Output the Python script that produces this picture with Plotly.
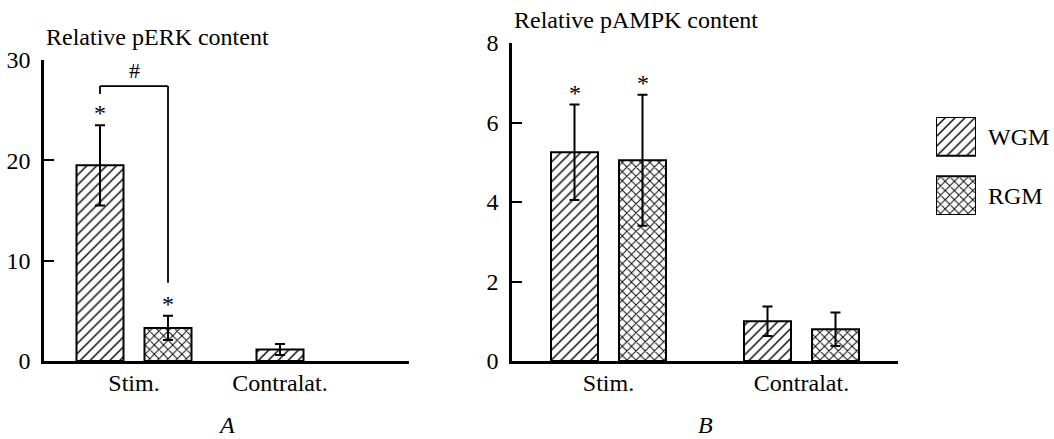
import plotly.graph_objects as go

# ---------------- data ----------------
categories = ["Stim.", "Contralat."]
series_names = ["WGM", "RGM"]

perk_wgm = [19.5, 1.15]
perk_wgm_err = [4.0, 0.55]
perk_rgm = [3.3, None]
perk_rgm_err = [1.2, None]

pampk_wgm = [5.25, 1.0]
pampk_wgm_err = [1.2, 0.37]
pampk_rgm = [5.05, 0.8]
pampk_rgm_err = [1.65, 0.42]

# significance marks: (panel, series index, category index)
stars = [("A", 0, 0), ("A", 1, 0), ("B", 0, 0), ("B", 1, 0)]
bracket_level = 27.4       # pERK units
bracket_left_drop = 26.6
bracket_right_drop = 7.8

# ---------------- layout geometry (pixels) ----------------
W, H = 1054, 439
FONT = "Liberation Serif, Times New Roman, serif"
FS = 24
BAR_PX = 47
OFF_PX = 34

pA = dict(x0=44, x1=409, y0=361, y1=60, yrange=[0, 30], yticks=[0, 10, 20, 30], xrange=[-0.5, 1.5278])
pB = dict(x0=512, x1=898, y0=361, y1=43, yrange=[0, 8], yticks=[0, 2, 4, 6, 8], xrange=[-0.5, 1.5])


def ppu(p):
    return (p["x1"] - p["x0"]) / (p["xrange"][1] - p["xrange"][0])


patterns = [dict(shape="/", size=7, solidity=0.2, fgcolor="black", bgcolor="white", fgopacity=1),
            dict(shape="x", size=6.5, solidity=0.27, fgcolor="black", bgcolor="white", fgopacity=1)]

fig = go.Figure()

panels = [("A", pA, [perk_wgm, perk_rgm], [perk_wgm_err, perk_rgm_err], "x", "y", "Relative pERK content"),
          ("B", pB, [pampk_wgm, pampk_rgm], [pampk_wgm_err, pampk_rgm_err], "x2", "y2", "Relative pAMPK content")]

annotations = []
shapes = []
positions = {}
for name, p, vals, errs, xa, ya, title in panels:
    u = ppu(p)
    width = BAR_PX / u
    off = OFF_PX / u
    pos_by_series = []
    for si, (v, e) in enumerate(zip(vals, errs)):
        sign = -1 if si == 0 else 1
        xs = [ci + sign * off for ci in range(len(categories))]
        pos_by_series.append(xs)
        fig.add_trace(go.Bar(
            x=xs, y=v, width=width, xaxis=xa, yaxis=ya,
            marker=dict(color="white", line=dict(color="black", width=2), pattern=patterns[si]),
            error_y=dict(type="data", array=e, visible=True, color="black", thickness=2, width=5),
            showlegend=False, name=series_names[si]))
    positions[name] = (pos_by_series, vals, errs)
    # tick positions: centre of the bars present in each category
    tickvals = []
    for ci in range(len(categories)):
        present = [pos_by_series[si][ci] for si in range(2) if vals[si][ci] is not None]
        tickvals.append(sum(present) / len(present))
    xkey = "xaxis" if xa == "x" else "xaxis2"
    ykey = "yaxis" if ya == "y" else "yaxis2"
    fig.layout[xkey] = dict(domain=[p["x0"] / W, p["x1"] / W], range=p["xrange"], anchor=ya,
                            showline=True, linecolor="black", linewidth=2.5, ticks="",
                            tickvals=tickvals, ticktext=categories, showgrid=False, zeroline=False,
                            tickfont=dict(family=FONT, size=FS, color="black"), ticklabelstandoff=-2)
    fig.layout[ykey] = dict(domain=[(H - p["y0"]) / H, (H - p["y1"]) / H], range=p["yrange"], anchor=xa,
                            showline=True, linecolor="black", linewidth=2.5, ticks="inside",
                            ticklen=10, tickwidth=2, tickcolor="black", tickvals=p["yticks"],
                            showgrid=False, zeroline=False,
                            tickfont=dict(family=FONT, size=FS, color="black"), ticklabelstandoff=6)
    dom = xa + " domain"
    annotations.append(dict(text=title, xref=dom, yref=ya + " domain", x=0, y=1, xanchor="left",
                            yanchor="middle", yshift=23, showarrow=False,
                            font=dict(family=FONT, size=FS, color="black")))
    annotations.append(dict(text=f"<i>{name}</i>", xref=dom, yref="paper", x=0.5, y=0,
                            xanchor="center", yanchor="bottom", yshift=0, showarrow=False,
                            borderpad=0, font=dict(family=FONT, size=FS, color="black")))

# stars
for pn, si, ci in stars:
    pos, vals, errs = positions[pn]
    xa, ya = ("x", "y") if pn == "A" else ("x2", "y2")
    annotations.append(dict(text="*", x=pos[si][ci], y=vals[si][ci] + errs[si][ci], xref=xa, yref=ya,
                            xanchor="center", yanchor="middle", yshift=12, showarrow=False,
                            font=dict(family=FONT, size=FS, color="black")))

# bracket with #
posA = positions["A"][0]
xl, xr = posA[0][0], posA[1][0]
for (x0, y0, x1, y1) in [(xl, bracket_level, xr, bracket_level),
                         (xl, bracket_level, xl, bracket_left_drop),
                         (xr, bracket_level, xr, bracket_right_drop)]:
    shapes.append(dict(type="line", xref="x", yref="y", x0=x0, y0=y0, x1=x1, y1=y1,
                       line=dict(color="black", width=1.8)))
annotations.append(dict(text="#", x=(xl + xr) / 2, y=bracket_level, xref="x", yref="y",
                        xanchor="center", yanchor="middle", yshift=16, showarrow=False,
                        font=dict(family=FONT, size=FS - 2, color="black")))

# legend drawn as a small axis with two pattern-filled boxes
for si in range(2):
    fig.add_trace(go.Bar(
        y=[1 - si], x=[1], orientation="h", width=0.655, xaxis="x3", yaxis="y3",
        marker=dict(color="white", line=dict(color="black", width=2), pattern=patterns[si]),
        showlegend=False, name=series_names[si]))
fig.layout["xaxis3"] = dict(domain=[936 / W, 976 / W], range=[0, 1], visible=False, anchor="y3")
fig.layout["yaxis3"] = dict(domain=[(H - 215) / H, (H - 117) / H], range=[-0.328, 1.328], anchor="x3",
                            side="right", showline=False, ticks="", tickvals=[1, 0], ticktext=series_names,
                            showgrid=False, zeroline=False, ticklabelstandoff=11,
                            tickfont=dict(family=FONT, size=FS, color="black"))

fig.update_layout(width=W, height=H, margin=dict(l=0, r=0, t=0, b=0, autoexpand=False),
                  plot_bgcolor="white", paper_bgcolor="white", barmode="overlay",
                  annotations=annotations, shapes=shapes, showlegend=False,
                  font=dict(family=FONT, size=FS, color="black"))

fig.write_html("out.html", config={"displayModeBar": False},
               post_script="document.body.style.margin='0';document.body.style.overflow='hidden';")
